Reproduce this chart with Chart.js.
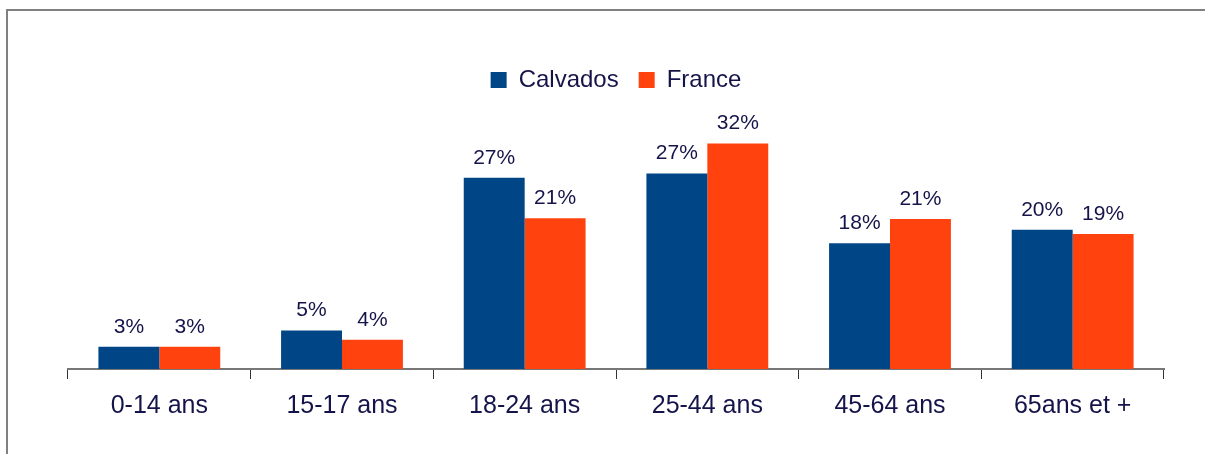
<!DOCTYPE html>
<html lang="fr">
<head>
<meta charset="UTF-8">
<title>Calvados / France</title>
<script src="https://cdn.jsdelivr.net/npm/chart.js"></script>
<style>
    body { margin: 0; background: #fff; }
    #wrap { position: relative; width: 1205px; height: 454px; }
    #frame {
        position: absolute; left: 6px; top: 9px; right: 0; bottom: 0;
        border-top: 2px solid #808080; border-left: 2px solid #808080;
        pointer-events: none;
    }
</style>
</head>
<body>
<div id="wrap">
    <canvas id="ageChart" width="1205" height="454"></canvas>
    <div id="frame"></div>
</div>

<script>
    // data (percent)
    const categories = ['0-14 ans', '15-17 ans', '18-24 ans', '25-44 ans', '45-64 ans', '65ans et +'];
    const calvados = [3.1, 5.4, 26.8, 27.4, 17.6, 19.5];
    const france = [3.1, 4.1, 21.1, 31.6, 21.0, 18.9];

    const textColor = '#14144a';
    const fontName = "'Liberation Sans', Arial, sans-serif";

    // percent labels above each bar
    const barLabels = {
        id: 'barLabels',
        afterDatasetsDraw(chart) {
            const ctx = chart.ctx;
            ctx.save();
            ctx.font = '21px ' + fontName;
            ctx.fillStyle = textColor;
            ctx.textAlign = 'center';
            ctx.textBaseline = 'alphabetic';
            chart.data.datasets.forEach((ds, i) => {
                chart.getDatasetMeta(i).data.forEach((bar, j) => {
                    ctx.fillText(Math.round(ds.data[j]) + '%', bar.x, bar.y - 14);
                });
            });
            ctx.restore();
        }
    };

    const ctx = document.getElementById('ageChart').getContext('2d');
    const ageChart = new Chart(ctx, {
        type: 'bar',
        data: {
            labels: categories,
            datasets: [
                { label: 'Calvados', data: calvados, backgroundColor: '#004586' },
                { label: 'France', data: france, backgroundColor: '#ff420e' }
            ]
        },
        options: {
            responsive: false,
            animation: false,
            categoryPercentage: 0.667,
            barPercentage: 1.0,
            layout: { padding: { left: 68, right: 41, top: 48, bottom: 21 } },
            plugins: {
                legend: {
                    position: 'top',
                    labels: {
                        boxWidth: 16,
                        boxHeight: 16,
                        padding: 20,
                        color: textColor,
                        font: { family: fontName, size: 24 }
                    }
                },
                tooltip: { enabled: false }
            },
            scales: {
                x: {
                    grid: {
                        display: true,
                        drawOnChartArea: false,
                        drawTicks: true,
                        tickLength: 10,
                        color: '#333'
                    },
                    border: { display: true, color: '#777', width: 2 },
                    ticks: {
                        color: textColor,
                        padding: 12,
                        font: { family: fontName, size: 25 }
                    }
                },
                y: {
                    display: false,
                    min: 0,
                    max: 37.4
                }
            }
        },
        plugins: [barLabels]
    });
</script>
</body>
</html>
